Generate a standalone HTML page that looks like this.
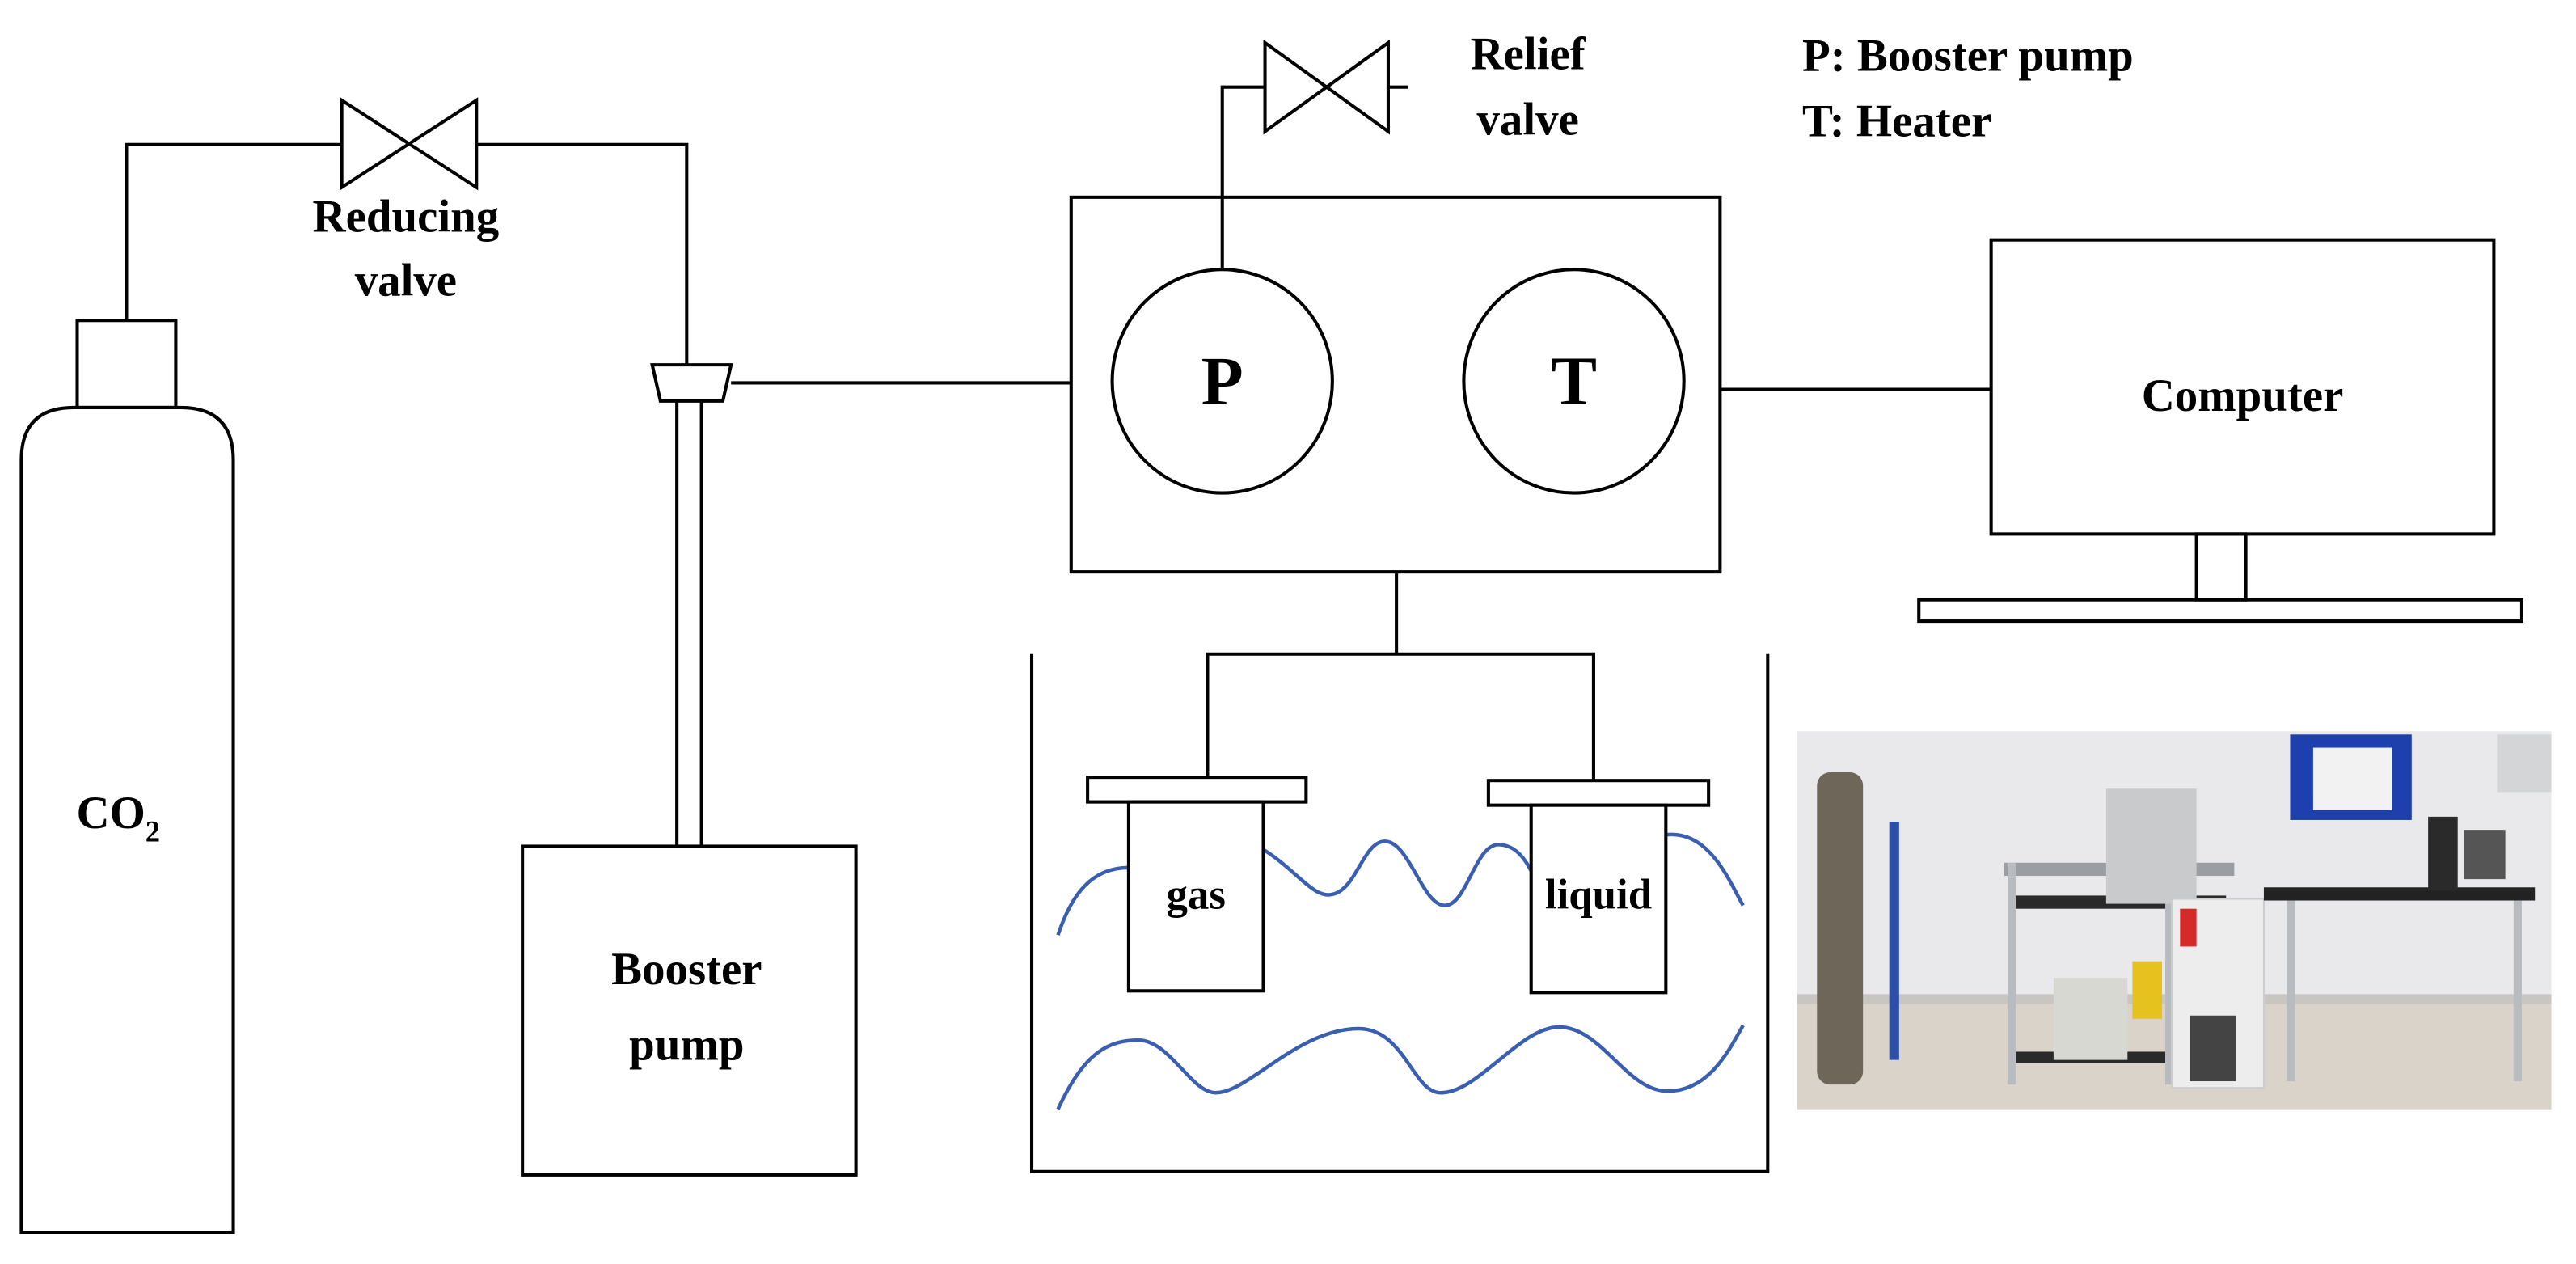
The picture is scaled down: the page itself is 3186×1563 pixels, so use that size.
<!DOCTYPE html>
<html><head><meta charset="utf-8"><style>
html,body{margin:0;padding:0;background:#fff;}
svg{display:block;}
text{font-family:"Liberation Serif",serif;font-weight:bold;fill:#000;}
</style></head><body>
<svg width="3186" height="1563" viewBox="0 0 1568 769.2" preserveAspectRatio="none" xmlns="http://www.w3.org/2000/svg">
<g fill="none" stroke="#000" stroke-width="2">
<path d="M13,750 V280 Q13,248 45,248 H110 Q142,248 142,280 V750 Z"/>
<rect x="47" y="195" width="60" height="53"/>
<polyline points="77,195 77,88 208,88"/>
<polygon points="208,61 208,114 290,61 290,114"/>
<polyline points="290,88 418,88 418,222"/>
<polygon points="397,222 445,222 440,244 402,244"/>
<line x1="412" y1="244" x2="412" y2="515"/>
<line x1="427" y1="244" x2="427" y2="515"/>
<line x1="445" y1="233" x2="652" y2="233"/>
<rect x="318" y="515" width="203" height="200"/>
<rect x="652" y="120" width="395" height="228"/>
<ellipse cx="744" cy="232" rx="67" ry="68"/>
<ellipse cx="958" cy="232" rx="67" ry="68"/>
<polyline points="744,164 744,53 770,53"/>
<polygon points="770,26 770,80 845,26 845,80"/>
<line x1="845" y1="53" x2="857" y2="53"/>
<line x1="1047" y1="237" x2="1212" y2="237"/>
<rect x="1212" y="146" width="306" height="179"/>
<rect x="1337" y="325" width="30" height="40"/>
<rect x="1168" y="365" width="367" height="13"/>
<polyline points="850,348 850,398"/>
<polyline points="735,473 735,398 970,398 970,475"/>
<polyline points="628,398 628,713 1076,713 1076,398"/>
</g>
<g fill="none" stroke="#3a5fb0" stroke-width="2.2">
<path d="M644,569 C652,545 664,528 687,528"/>
<path d="M769,517 C790,530 800,548 812,544 C826,540 830,512 843,512 C858,512 866,552 880,551 C893,550 898,514 912,514 C922,514 928,522 932,530"/>
<path d="M1014,508 C1040,505 1052,535 1061,551"/>
<path d="M644,675 C660,640 675,633 693,633 C712,633 725,665 740,665 C760,665 790,626 827,626 C855,626 860,665 877,665 C900,665 925,625 949,625 C975,625 990,664 1015,664 C1040,664 1052,640 1061,624"/>
</g>
<g fill="#fff" stroke="#000" stroke-width="2">
<rect x="662" y="473" width="133" height="15"/>
<rect x="687" y="488" width="82" height="115"/>
<rect x="906" y="475" width="134" height="15"/>
<rect x="932" y="490" width="82" height="114"/>
</g>
<g font-size="28" text-anchor="middle">
<text x="247" y="141">Reducing</text>
<text x="247" y="180">valve</text>
<text x="930" y="42">Relief</text>
<text x="930" y="82">valve</text>
<text x="418" y="599">Booster</text>
<text x="418" y="645">pump</text>
<text x="1365" y="250">Computer</text>
<text x="728" y="553" font-size="26">gas</text>
<text x="973" y="553" font-size="26">liquid</text>
<text x="72" y="504">CO<tspan font-size="18" dy="8">2</tspan></text>
</g>
<g font-size="28">
<text x="1097" y="43">P: Booster pump</text>
<text x="1097" y="83">T: Heater</text>
</g>
<g font-size="42" text-anchor="middle">
<text x="744" y="246">P</text>
<text x="958" y="246">T</text>
</g>
<g>
<rect x="1094" y="445" width="459" height="230" fill="#e9e9ec"/>
<rect x="1094" y="610" width="459" height="65" fill="#d9d3ca"/>
<rect x="1094" y="605" width="459" height="6" fill="#c9c6c2"/>
<rect x="1120" y="500" width="12" height="145" fill="#2e4fa8"/>
<rect x="1150" y="500" width="6" height="145" fill="#2e4fa8"/>
<rect x="1106" y="470" width="28" height="190" rx="8" fill="#6f665a"/>
<rect x="1220" y="525" width="140" height="8" fill="#9a9ea2"/>
<rect x="1225" y="545" width="130" height="8" fill="#2a2a2a"/>
<rect x="1225" y="640" width="100" height="7" fill="#2a2a2a"/>
<rect x="1222" y="525" width="5" height="135" fill="#b8bcc0"/>
<rect x="1318" y="525" width="5" height="135" fill="#b8bcc0"/>
<rect x="1282" y="480" width="55" height="70" fill="#c8cacb"/>
<rect x="1250" y="595" width="45" height="50" fill="#d8d8d2"/>
<rect x="1298" y="585" width="18" height="35" fill="#e6c21e"/>
<rect x="1322" y="547" width="56" height="115" fill="#ededed" stroke="#ccc"/>
<rect x="1327" y="553" width="10" height="23" fill="#d42a2a"/>
<rect x="1333" y="618" width="28" height="40" fill="#444"/>
<rect x="1394" y="447" width="74" height="52" fill="#1e3fae"/>
<rect x="1408" y="455" width="48" height="38" fill="#f2f2f2"/>
<rect x="1378" y="540" width="165" height="8" fill="#222"/>
<rect x="1478" y="497" width="18" height="45" fill="#2a2a2a"/>
<rect x="1500" y="505" width="25" height="30" fill="#555"/>
<rect x="1392" y="548" width="5" height="110" fill="#b8bcc0"/>
<rect x="1530" y="548" width="5" height="110" fill="#b8bcc0"/>
<rect x="1520" y="447" width="33" height="35" fill="#d4d5d7"/>
</g>
</svg>
</body></html>
